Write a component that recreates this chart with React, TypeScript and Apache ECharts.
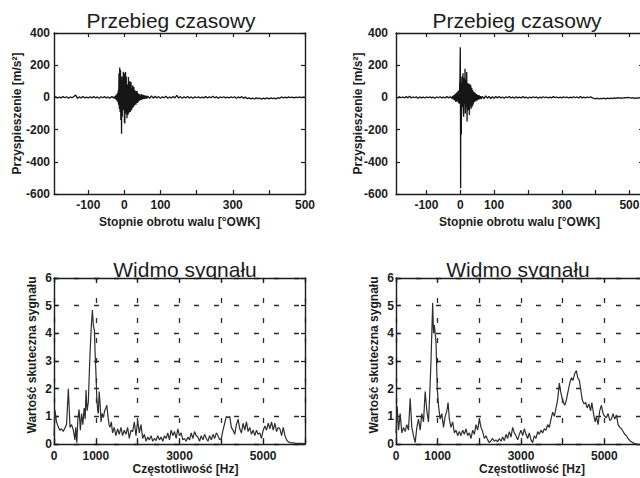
import { useEffect, useRef } from 'react';
import * as echarts from 'echarts';

const FONT = '"Liberation Sans", Arial, Helvetica, sans-serif';
const INK = '#1c1c1c';

const titleTime = 'Przebieg czasowy';
const titleSpec = 'Widmo sygnału';
const xNameTime = 'Stopnie obrotu walu [°OWK]';
const yNameTime = 'Przyspieszenie [m/s²]';
const xNameSpec = 'Częstotliwość [Hz]';
const yNameSpec = 'Wartość skuteczna sygnału';

const timeTicks = [-100, 0, 100, 200, 300, 400, 500];
const timeLabels = [-100, 0, 100, 300, 500];
const freqLabels = [0, 1000, 3000, 5000];

// Left time signal: [deg, m/s2]
const timeLeft: [number, number][] = [
  [-195, 0], [-190, 3], [-185, -4], [-180, 2], [-175, -3], [-170, 5], [-165, -2], [-160, 4], [-155, -5], [-150, 3],
  [-145, -2], [-140, 6], [-135, 14], [-130, -6], [-125, 3], [-120, -4], [-115, 5], [-110, -3], [-105, 2], [-100, -4],
  [-95, 4], [-90, -3], [-85, 6], [-80, -4], [-75, 3], [-70, -5], [-65, 4], [-60, -2], [-55, 5], [-50, -4],
  [-45, 3], [-40, -5], [-35, 6], [-30, -4],
  [-28, 5], [-26, -8], [-24, 12], [-22, -18], [-20, 25], [-18, -30], [-17, 45], [-16, -45], [-15, 150], [-14, -70],
  [-13, 185], [-12, -90], [-11, 170], [-10, -140], [-9, 60], [-8, -225], [-7, 130], [-6, -120], [-5, 90], [-4, -60],
  [-3, 160], [-2, -80], [-1, 150], [0, -150], [1, -162], [2, 60], [3, 157], [4, -100], [5, 130], [6, -60],
  [7, -130], [8, 80], [9, 50], [10, -110], [11, 126], [12, -40], [13, -95], [14, 70], [15, 100], [16, -91],
  [17, -50], [18, 95], [19, 40], [20, -80], [21, 60], [22, -65], [23, 75], [24, -40], [25, -60], [26, 64],
  [27, 30], [28, -50], [29, 45], [30, -40], [31, 35], [32, -45], [33, 40], [34, -30], [35, 40], [36, -35],
  [37, 25], [38, -28], [40, 22], [42, -20], [44, 18], [46, -15], [48, 20], [50, -12], [52, 15], [54, -10],
  [56, 12], [58, -8], [60, 10], [62, -7],
  [65, 8], [70, -6], [75, 10], [80, -5], [85, 7], [90, -4], [95, 5], [100, -6], [105, 4], [110, -3],
  [115, 8], [120, -5], [125, 3], [130, -4], [135, 6], [140, -3], [145, 12], [150, -4], [155, 5], [160, -6],
  [165, 4], [170, -3], [175, 6], [180, -4], [185, 3], [190, -5], [195, 4], [200, -2], [205, 3], [210, -4],
  [215, 2], [220, -3], [225, 5], [230, -4], [235, 3], [240, -2], [245, 8], [250, -3], [255, 4], [260, -5],
  [265, 3], [270, -2], [275, 4], [280, -3], [285, 2], [290, -4], [295, 3], [300, -2], [305, 4], [310, -5],
  [315, 3], [320, -3], [325, 5], [330, -6], [335, 2], [340, -8], [345, -3], [350, -9], [355, -4], [360, -10],
  [365, -3], [370, -8], [375, -5], [380, -11], [385, -4], [390, -9], [395, -2], [400, -10], [405, -3], [410, -8],
  [415, -4], [420, -9], [425, -2], [430, -6], [435, 3], [440, -4], [445, 2], [450, -3], [455, 3], [460, -2],
  [465, 2], [470, -3], [475, 2], [480, -2], [485, 3], [490, -2], [495, 1], [500, 0],
];

// Right time signal: [deg, m/s2]
const timeRight: [number, number][] = [
  [-190, 2], [-185, -3], [-180, 4], [-175, -2], [-170, 3], [-165, -4], [-160, 5], [-155, -3], [-150, 8], [-145, -4],
  [-140, 3], [-135, -2], [-130, 4], [-125, -5], [-120, 3], [-115, -3], [-110, 2], [-105, -4], [-100, 3], [-95, -2],
  [-90, 4], [-85, -3], [-80, 2], [-75, -5], [-70, 3], [-65, -2], [-60, 4], [-55, -3], [-50, 2], [-45, -4],
  [-40, 5], [-35, -3], [-30, 4], [-25, -6],
  [-23, 8], [-21, -12], [-19, 15], [-17, -18], [-15, 22], [-13, -28], [-11, 30], [-9, -25], [-7, 38], [-5, -35],
  [-4, 45], [-3, -40], [-2, 60], [-1, 120], [0, 312], [0.5, -20], [1, -565], [1.5, 40], [2, 90], [3, -230],
  [4, 60], [5, 130], [6, -60], [7, 100], [8, 150], [9, -80], [10, -120], [11, 60], [12, 120], [13, -40],
  [14, 178], [15, -100], [16, 40], [17, 110], [18, -60], [19, 157], [20, -150], [21, 30], [22, 90], [23, -60],
  [24, -80], [25, 60], [26, 85], [27, -110], [28, 40], [29, 80], [30, -50], [31, 74], [32, -70], [33, 30],
  [34, 60], [35, -60], [36, 20], [37, 45], [38, -45], [40, 35], [42, -30], [44, 28], [46, -24], [48, 20],
  [50, -18], [52, 15], [54, -14], [56, 12], [58, -10], [60, 8], [62, -8],
  [65, 6], [70, -8], [75, 9], [80, -5], [85, 6], [90, -7], [95, 4], [100, -5], [105, 6], [110, -3],
  [115, 5], [120, -4], [125, 3], [130, -5], [135, 4], [140, -2], [145, 5], [150, -4], [155, 3], [160, -6],
  [165, 4], [170, -3], [175, 2], [180, -4], [185, 5], [190, -3], [195, 2], [200, -5], [205, 3], [210, -4],
  [215, 4], [220, -2], [225, 3], [230, -5], [235, 2], [240, -3], [245, 4], [250, -2], [255, 3], [260, -4],
  [265, 2], [270, -3], [275, 5], [280, -2], [285, 3], [290, -4], [295, 2], [300, -3], [305, 4], [310, -2],
  [315, 3], [320, -4], [325, 2], [330, -3], [335, 4], [340, -2], [345, 3], [350, -4], [355, 5], [360, -3],
  [365, 2], [370, -4], [375, 3], [380, -2], [385, 4], [390, -3], [395, -6], [400, -9], [405, -5], [410, -10],
  [415, -6], [420, -8], [425, -4], [430, -9], [435, -5], [440, -8], [445, -4], [450, -7], [455, -3], [460, -6],
  [465, -2], [470, -5], [475, -3], [480, -4], [485, -1], [490, -3], [495, 0], [500, -2], [505, -5], [510, -2],
  [515, -6], [520, -3], [525, -5], [530, -2], [535, -4], [540, -3],
];

// Left spectrum: [Hz, RMS]
const specLeft: [number, number][] = [
  [0, 0.3], [25, 1.22], [60, 0.8], [100, 0.62], [140, 0.5], [180, 0.55], [220, 0.45], [260, 0.58], [300, 0.7], [343, 2.0],
  [383, 0.6], [420, 0.7], [463, 0.5], [500, 0.15], [520, 0.6], [545, 0.05], [570, 0.9], [600, 1.25], [630, 0.5], [660, 1.1],
  [690, 0.7], [720, 1.3], [745, 0.9], [766, 1.95], [790, 1.2], [820, 1.5], [845, 2.6], [862, 3.3], [890, 4.2], [918, 4.84],
  [940, 4.3], [966, 4.1], [985, 3.2], [1000, 2.67], [1022, 1.7], [1045, 1.2], [1060, 1.1], [1080, 1.9], [1100, 1.5], [1125, 0.8],
  [1150, 1.1], [1182, 0.96], [1210, 1.2], [1240, 1.3], [1262, 1.4], [1290, 1.0], [1315, 0.7], [1340, 0.6], [1370, 0.8],
  [1400, 0.4], [1440, 0.6], [1480, 0.3], [1520, 0.55], [1560, 0.35], [1600, 0.6], [1640, 0.3], [1680, 0.5], [1720, 0.35], [1760, 0.6],
  [1800, 0.2], [1840, 0.5], [1880, 0.45], [1920, 0.8], [1960, 0.3], [2000, 0.85], [2040, 0.4], [2080, 0.7], [2120, 0.2], [2160, 0.35],
  [2200, 0.1], [2240, 0.25], [2280, 0.15], [2320, 0.3], [2360, 0.1], [2400, 0.2], [2440, 0.12], [2480, 0.3], [2520, 0.15], [2560, 0.25],
  [2600, 0.1], [2640, 0.3], [2680, 0.2], [2720, 0.4], [2760, 0.15], [2800, 0.5], [2840, 0.3], [2880, 0.45], [2920, 0.2], [2960, 0.55],
  [3000, 0.3], [3040, 0.4], [3080, 0.15], [3120, 0.2], [3160, 0.1], [3200, 0.25], [3240, 0.15], [3280, 0.4], [3320, 0.2], [3360, 0.45],
  [3400, 0.3], [3440, 0.25], [3480, 0.1], [3520, 0.3], [3560, 0.15], [3600, 0.35], [3640, 0.2], [3680, 0.1], [3720, 0.3], [3760, 0.15],
  [3800, 0.35], [3840, 0.2], [3880, 0.4], [3920, 0.3], [3960, 0.15], [4000, 0.2], [4040, 0.5], [4080, 0.75], [4120, 1.0], [4160, 0.95],
  [4200, 1.0], [4240, 0.6], [4280, 0.5], [4320, 0.35], [4360, 0.7], [4400, 0.9], [4440, 0.55], [4480, 0.4], [4520, 0.75], [4560, 0.5],
  [4600, 0.8], [4640, 0.45], [4680, 0.6], [4720, 0.35], [4760, 0.5], [4800, 0.3], [4840, 0.5], [4880, 0.35], [4920, 0.4], [4960, 0.2],
  [5000, 0.5], [5040, 0.65], [5080, 0.5], [5120, 0.75], [5160, 0.55], [5200, 0.8], [5240, 0.5], [5280, 0.75], [5320, 0.45], [5360, 0.6],
  [5400, 0.55], [5440, 0.3], [5480, 0.6], [5520, 0.3], [5560, 0.15], [5600, 0.08], [5640, 0.05], [5700, 0.04], [5800, 0.02], [5900, 0.02],
  [6000, 0.01],
];

// Right spectrum: [Hz, RMS]
const specRight: [number, number][] = [
  [0, 0.4], [30, 1.35], [60, 0.5], [100, 1.1], [140, 0.4], [180, 0.6], [220, 0.45], [260, 0.7], [300, 0.5], [340, 1.65],
  [380, 0.6], [420, 0.3], [460, 0.05], [500, 0.6], [540, 0.9], [580, 0.5], [620, 1.1], [660, 0.8], [700, 1.9], [740, 1.2],
  [780, 0.8], [810, 1.8], [840, 3.0], [880, 5.1], [900, 4.0], [920, 4.3], [960, 3.7], [990, 2.0], [1020, 1.4], [1060, 0.9],
  [1100, 1.1], [1140, 0.6], [1180, 1.0], [1220, 1.2], [1250, 1.5], [1280, 0.9], [1320, 0.6], [1360, 0.8], [1400, 0.4], [1440, 0.5],
  [1480, 0.3], [1520, 0.45], [1560, 0.3], [1600, 0.5], [1640, 0.35], [1680, 0.55], [1720, 0.3], [1760, 0.4], [1800, 0.2], [1840, 0.5],
  [1880, 0.35], [1920, 0.7], [1960, 0.5], [2000, 0.9], [2040, 0.6], [2080, 0.45], [2120, 0.2], [2160, 0.3], [2200, 0.15], [2240, 0.05],
  [2280, 0.12], [2320, 0.2], [2360, 0.1], [2400, 0.15], [2440, 0.08], [2480, 0.2], [2520, 0.1], [2560, 0.25], [2600, 0.12], [2640, 0.35],
  [2680, 0.2], [2720, 0.45], [2760, 0.25], [2800, 0.6], [2840, 0.4], [2880, 0.3], [2920, 0.15], [2960, 0.35], [3000, 0.5], [3040, 0.3],
  [3080, 0.55], [3120, 0.35], [3160, 0.2], [3200, 0.4], [3240, 0.15], [3280, 0.05], [3320, 0.3], [3360, 0.2], [3400, 0.45], [3440, 0.35],
  [3480, 0.5], [3520, 0.4], [3560, 0.55], [3600, 0.5], [3640, 0.7], [3680, 0.6], [3720, 0.9], [3760, 1.15], [3800, 1.0], [3840, 1.3],
  [3880, 1.6], [3920, 2.2], [3950, 1.9], [3980, 1.7], [4020, 1.5], [4050, 1.4], [4090, 1.6], [4130, 1.9], [4170, 2.2], [4210, 2.4],
  [4250, 2.3], [4290, 2.55], [4330, 2.65], [4360, 2.4], [4400, 2.3], [4430, 2.0], [4470, 1.6], [4510, 1.45], [4550, 1.5], [4590, 1.3],
  [4630, 1.45], [4670, 1.2], [4700, 1.5], [4740, 1.1], [4780, 0.8], [4810, 1.0], [4850, 0.7], [4890, 1.2], [4930, 1.4], [4970, 1.1],
  [5010, 1.0], [5050, 0.95], [5090, 1.1], [5130, 0.85], [5170, 0.9], [5210, 1.1], [5250, 0.9], [5290, 1.05], [5330, 0.7], [5370, 0.6],
  [5410, 0.55], [5450, 0.45], [5490, 0.35], [5530, 0.3], [5570, 0.2], [5610, 0.12], [5650, 0.08], [5700, 0.03], [5760, 0.0], [5800, 0.0],
];

const labelStyle = { color: INK, fontFamily: FONT, fontSize: 12, fontWeight: 'bold' as const };
const frameLine = { show: true, onZero: false, lineStyle: { color: INK, width: 1.4 } };
const tickStyle = { color: INK, width: 1.2 };
const dash = { color: '#2a2a2a', width: 1.3, type: [5, 15] };

function timeX(g: number, min: number, max: number, top: boolean) {
  return {
    type: 'value', gridIndex: g, position: top ? 'top' : 'bottom', min, max,
    axisLine: frameLine,
    axisTick: { show: true, inside: true, length: 4, customValues: timeTicks, lineStyle: tickStyle },
    axisLabel: top ? { show: false } : {
      show: true, margin: 5, ...labelStyle, customValues: timeLabels,
      formatter: (v: number) => (timeLabels.includes(v) ? String(v) : ''),
    },
    splitLine: { show: false },
    name: top ? '' : xNameTime, nameLocation: 'middle', nameGap: 22, nameMoveOverlap: false,
    nameTextStyle: labelStyle,
    z: 3,
  };
}

function timeY(g: number, right: boolean, margin: number, gap: number) {
  return {
    type: 'value', gridIndex: g, position: right ? 'right' : 'left', min: -600, max: 400, interval: 200,
    axisLine: frameLine,
    axisTick: { show: true, inside: true, length: 4, lineStyle: tickStyle },
    axisLabel: right ? { show: false } : { show: true, margin, ...labelStyle },
    splitLine: { show: false },
    name: right ? '' : yNameTime, nameLocation: 'middle', nameGap: gap, nameMoveOverlap: false,
    nameTextStyle: labelStyle,
    z: 3,
  };
}

function specX(g: number, top: boolean, shift: number) {
  return {
    type: 'value', gridIndex: g, position: top ? 'top' : 'bottom', min: 0, max: 6000, interval: 1000,
    axisLine: frameLine,
    axisTick: { show: true, inside: true, length: 4, lineStyle: tickStyle },
    axisLabel: top ? { show: false } : {
      show: true, margin: 6, ...labelStyle,
      formatter: (v: number) => (freqLabels.includes(v) ? String(v) : ''),
    },
    splitLine: top ? { show: false } : { show: true, lineStyle: dash },
    name: top ? '' : xNameSpec, nameLocation: 'middle', nameGap: 19, nameMoveOverlap: false,
    nameTextStyle: { ...labelStyle, padding: [0, 0, 0, shift] },
    z: 3,
  };
}

function specY(g: number, right: boolean) {
  return {
    type: 'value', gridIndex: g, position: right ? 'right' : 'left', min: 0, max: 6, interval: 1,
    axisLine: frameLine,
    axisTick: { show: true, inside: true, length: 4, lineStyle: tickStyle },
    axisLabel: right ? { show: false } : { show: true, margin: 2, ...labelStyle },
    splitLine: right ? { show: false } : { show: true, lineStyle: dash },
    name: right ? '' : yNameSpec, nameLocation: 'middle', nameGap: 16, nameMoveOverlap: false,
    nameTextStyle: { ...labelStyle, padding: [0, 0, 0, 12] },
    z: 3,
  };
}

function gridAt(left: number, top: number, width: number, height: number) {
  return {
    left, top, width, height, show: true, backgroundColor: '#ffffff', borderWidth: 0,
    containLabel: false, outerBoundsMode: 'none', z: 2,
  };
}

function titleText(text: string, x: number, y: number) {
  return {
    type: 'text', x, y, z: 0, zlevel: 0,
    style: { text, fill: INK, font: `21px ${FONT}`, align: 'center', verticalAlign: 'middle' },
  };
}

function line(g: number, data: [number, number][], color: string, width: number) {
  return {
    type: 'line', xAxisIndex: 2 * g, yAxisIndex: 2 * g, data,
    showSymbol: false, symbol: 'none', silent: true, z: 4,
    lineStyle: { color, width },
  };
}

const option = {
  animation: false,
  backgroundColor: '#ffffff',
  textStyle: { fontFamily: FONT },
  graphic: [
    titleText(titleTime, 171, 20),
    titleText(titleTime, 517, 20),
    titleText(titleSpec, 185, 269),
    titleText(titleSpec, 518, 269),
  ],
  grid: [
    gridAt(54, 33, 251, 161),
    gridAt(396, 33, 247, 161),
    gridAt(54, 278, 251, 166),
    gridAt(396, 278, 250, 166),
  ],
  xAxis: [
    timeX(0, -195, 500, false), timeX(0, -195, 500, true),
    timeX(1, -190, 540, false), timeX(1, -190, 540, true),
    specX(2, false, 12), specX(2, true, 0),
    specX(3, false, 22), specX(3, true, 0),
  ],
  yAxis: [
    timeY(0, false, 4, 31), timeY(0, true, 4, 31),
    timeY(1, false, 8, 32), timeY(1, true, 8, 32),
    specY(2, false), specY(2, true),
    specY(3, false), specY(3, true),
  ],
  series: [
    line(0, timeLeft, '#151515', 1.3),
    line(1, timeRight, '#151515', 1.3),
    line(2, specLeft, '#2e2e2e', 1.2),
    line(3, specRight, '#2e2e2e', 1.2),
  ],
};

export default function App() {
  const ref = useRef<HTMLDivElement>(null);
  useEffect(() => {
    document.body.style.margin = '0';
    const chart = echarts.init(ref.current as HTMLDivElement, null, { renderer: 'svg', width: 640, height: 478 });
    chart.setOption(option as any);
    return () => chart.dispose();
  }, []);
  return <div ref={ref} style={{ position: 'absolute', left: 0, top: 0, width: 640, height: 478, background: '#fff' }} />;
}
